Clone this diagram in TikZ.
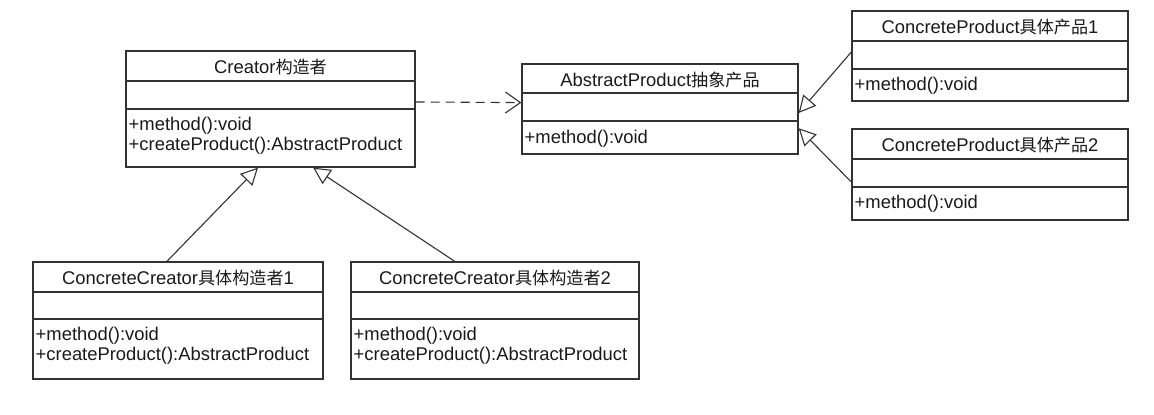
\documentclass[tikz,border=0pt]{standalone}
\usepackage{fontspec}
\setmainfont{Liberation Sans}
\newfontfamily\cjk{Noto Sans CJK SC}[Scale=0.93]
\usetikzlibrary{arrows.meta,calc}
\definecolor{linec}{HTML}{333333}
\definecolor{txtc}{HTML}{1A1A1A}
\tikzset{
  box/.style={draw=linec, line width=1.3pt, inner sep=0pt, fill=white},
  divider/.style={draw=linec, line width=1.3pt},
  ttl/.style={anchor=base, inner sep=0pt, text=txtc, font=\fontsize{18.4}{20.7}\selectfont},
  mem/.style={anchor=base west, inner sep=0pt, text=txtc, font=\fontsize{18.4}{20.7}\selectfont},
  inherit/.style={draw=linec, line width=1.1pt, -{Triangle[open, length=17pt, width=17pt, line width=1.1pt]}},
  depend/.style={draw=linec, line width=1.1pt, dash pattern=on 9pt off 6pt, -{Straight Barb[length=15pt, width=21pt, line width=1.1pt]}}
}
% #1 name, #2 x1, #3 x2, #4 y1, #5 d1, #6 d2, #7 y2, #8 title
\newcommand{\umlbox}[8]{%
  \node[box, minimum width={#3-#2}, minimum height={#7-#4}] (#1) at ({(#2+#3)/2},{(#4+#7)/2}) {};
  \draw[divider] (#2,#5) -- (#3,#5) (#2,#6) -- (#3,#6);
  \node[ttl] (#1-t) at ({(#2+#3)/2},{(#4+#5)/2+7.5}) {#8};
}
\begin{document}
\begin{tikzpicture}[x=1pt,y=-1pt]
\useasboundingbox[fill=white] (0,0) rectangle (1154,415);

% Creator
\umlbox{creator}{126}{415}{51}{81}{109}{167}{Creator{\cjk 构造者}}
\node[mem] (creator-m1) at (128.5,130) {+method():void};
\node[mem] (creator-m2) at (128.5,150.7) {+createProduct():AbstractProduct};

% AbstractProduct
\umlbox{ap}{522}{798}{64}{93}{121}{154}{AbstractProduct{\cjk 抽象产品}}
\node[mem] (ap-m1) at (524.5,143) {+method():void};

% ConcreteProduct1
\umlbox{cp1}{852}{1128}{11}{41}{69}{101}{ConcreteProduct{\cjk 具体产品}1}
\node[mem] (cp1-m1) at (854.5,90) {+method():void};

% ConcreteProduct2
\umlbox{cp2}{852}{1128}{129}{159}{187}{220}{ConcreteProduct{\cjk 具体产品}2}
\node[mem] (cp2-m1) at (854.5,208) {+method():void};

% ConcreteCreator1
\umlbox{cc1}{33}{323}{262}{292}{319}{379}{ConcreteCreator{\cjk 具体构造者}1}
\node[mem] (cc1-m1) at (35.5,340) {+method():void};
\node[mem] (cc1-m2) at (35.5,360.7) {+createProduct():AbstractProduct};

% ConcreteCreator2
\umlbox{cc2}{351}{639}{262}{292}{319}{379}{ConcreteCreator{\cjk 具体构造者}2}
\node[mem] (cc2-m1) at (353.5,340) {+method():void};
\node[mem] (cc2-m2) at (353.5,360.7) {+createProduct():AbstractProduct};

% connectors
\draw[inherit] ($(cc1.north west)!0.462!(cc1.north east)$) -- ($(creator.south west)!0.457!(creator.south east)$);
\draw[inherit] ($(cc2.north west)!0.361!(cc2.north east)$) -- ($(creator.south west)!0.647!(creator.south east)$);
\draw[inherit] ($(cp1.north west)!0.456!(cp1.south west)$) -- ($(ap.north east)!0.544!(ap.south east)$);
\draw[inherit] ($(cp2.north west)!0.582!(cp2.south west)$) -- ($(ap.north east)!0.711!(ap.south east)$);
\draw[depend] ($(creator.north east)!0.44!(creator.south east)$) -- ($(ap.north west)!0.43!(ap.south west)$);
\end{tikzpicture}
\end{document}
